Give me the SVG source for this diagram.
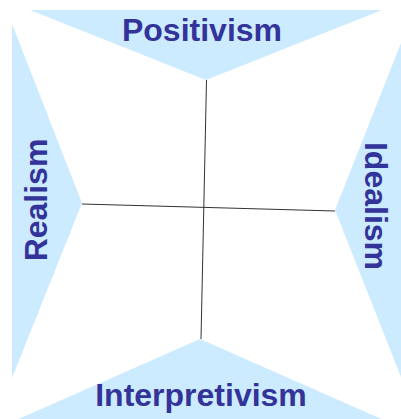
<svg xmlns="http://www.w3.org/2000/svg" width="401" height="419" viewBox="0 0 401 419">
<style>
.tri{fill:#CCEBFF;stroke:none}
.lbl{font-family:"Liberation Sans",Arial,sans-serif;font-weight:bold;font-size:32px;fill:#333399;text-anchor:middle}
.ax{stroke:#333;stroke-width:1;fill:none}
</style>
<rect width="401" height="419" fill="#fff"/>
<g id="positivism">
<polygon class="tri" points="30,10 382,10 206,80"/>
<text class="lbl" x="202" y="41">Positivism</text>
</g>
<g id="realism">
<polygon class="tri" points="12,24 82,203 12,378"/>
<text class="lbl" transform="translate(47,200) rotate(-90)">Realism</text>
</g>
<g id="idealism">
<polygon class="tri" points="405,33 335,210 405,387"/>
<text class="lbl" transform="translate(365,206) rotate(90)">Idealism</text>
</g>
<g id="interpretivism">
<polygon class="tri" points="14,421 200,339 386,421"/>
<text class="lbl" x="201" y="406">Interpretivism</text>
</g>
<g id="connectors">
<line class="ax" x1="206.5" y1="80" x2="201" y2="339"/>
<line class="ax" x1="82" y1="204" x2="335" y2="211"/>
</g>
</svg>
